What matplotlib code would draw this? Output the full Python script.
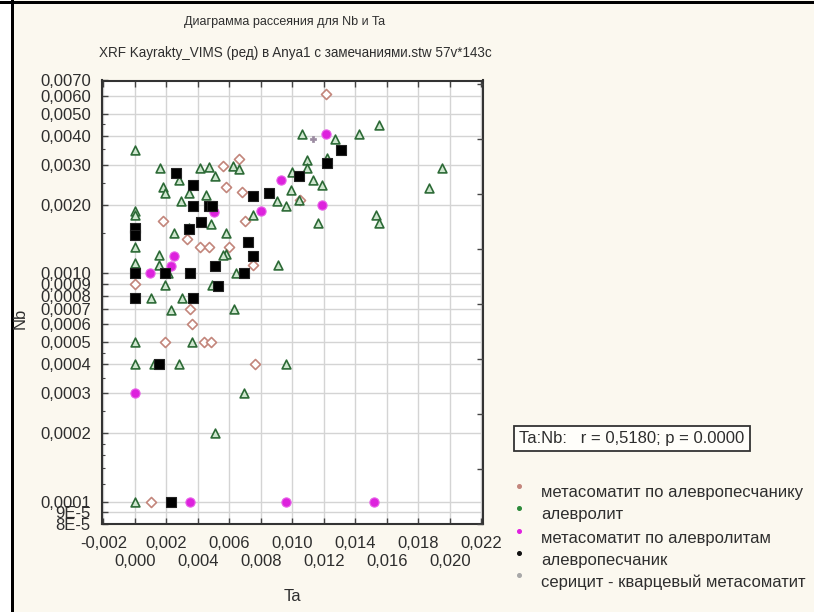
import numpy as np
import matplotlib
matplotlib.use("Agg")
import matplotlib.pyplot as plt
from matplotlib.patches import Rectangle
from matplotlib.lines import Line2D
from matplotlib.ticker import FixedLocator, FixedFormatter, NullFormatter

plt.rcParams['font.family'] = ['Liberation Sans', 'DejaVu Sans']

title = "Диаграмма рассеяния для Nb и Ta"
subtitle = "XRF Kayrakty_VIMS (ред) в Anya1 с замечаниями.stw 57v*143c"
corr_text = "Ta:Nb:   r = 0,5180; p = 0.0000"

group_names = [
    "метасоматит по алевропесчанику",
    "алевролит",
    "метасоматит по алевролитам",
    "алевропесчаник",
    "серицит - кварцевый метасоматит",
]

# Ta / Nb pairs for each rock group
ta_meta_alps = [0.0121, 0.0056, 0.0066, 0.0058, 0.0068, 0.0018, 0.0070, 0.0033, 0.0041, 0.0047,
                0.0060, 0.0075, 0.0105, 0.0000, 0.0035, 0.0036, 0.0019, 0.0044, 0.0048, 0.0076,
                0.0010]
nb_meta_alps = [0.0061, 0.00296, 0.00316, 0.00238, 0.00228, 0.00169, 0.00169, 0.00141, 0.00130, 0.00130,
                0.00130, 0.00109, 0.00209, 0.00090, 0.00070, 0.00060, 0.00050, 0.00050, 0.00050, 0.00040,
                0.00010]

ta_alevrolit = [0.0000, 0.0016, 0.0028, 0.0041, 0.0047, 0.0062, 0.0066, 0.0018, 0.0019, 0.0051,
                0.0034, 0.0045, 0.0029, 0.0090, 0.0096, 0.0000, 0.0000, 0.0075, 0.0034, 0.0025,
                0.0058, 0.0048, 0.0000, 0.0058, 0.0056, 0.0015, 0.0015, 0.0091, 0.0000, 0.0021,
                0.0064, 0.0019, 0.0049, 0.0010, 0.0030, 0.0023, 0.0063, 0.0000, 0.0036, 0.0000,
                0.0012, 0.0028, 0.0096, 0.0069, 0.0051, 0.0000, 0.00995, 0.0099, 0.0104, 0.0155,
                0.0106, 0.0127, 0.0142, 0.0195, 0.0109, 0.0109, 0.0122, 0.0113, 0.0119, 0.0187,
                0.0116, 0.0153, 0.0155]
nb_alevrolit = [0.00347, 0.00289, 0.00257, 0.00289, 0.00294, 0.00296, 0.00286, 0.00240, 0.00225, 0.00266,
                0.00225, 0.00221, 0.00207, 0.00207, 0.00198, 0.00187, 0.00181, 0.00181, 0.00158, 0.00151,
                0.00151, 0.00164, 0.00130, 0.00122, 0.00120, 0.00120, 0.00109, 0.00109, 0.00111, 0.00100,
                0.00100, 0.00089, 0.00089, 0.00078, 0.00078, 0.00069, 0.00070, 0.00050, 0.00050, 0.00040,
                0.00040, 0.00040, 0.00040, 0.00030, 0.00020, 0.00010, 0.00278, 0.00231, 0.00210, 0.00446,
                0.00409, 0.00390, 0.00410, 0.00289, 0.00315, 0.00289, 0.00320, 0.00257, 0.00245, 0.00237,
                0.00167, 0.00181, 0.00166]

ta_meta_alv = [0.0093, 0.0080, 0.0050, 0.0025, 0.0023, 0.00095, 0.0121, 0.0119, 0.0000, 0.0035,
               0.0096, 0.0152]
nb_meta_alv = [0.00257, 0.00188, 0.00185, 0.00119, 0.00108, 0.00100, 0.00410, 0.00200, 0.00030, 0.00010,
               0.00010, 0.00010]

ta_alps = [0.0026, 0.0037, 0.0075, 0.0085, 0.0037, 0.0047, 0.0049, 0.0000, 0.0000, 0.0042,
           0.0034, 0.0072, 0.0075, 0.0051, 0.0104, 0.0131, 0.0122, 0.0000, 0.0019, 0.0035,
           0.0069, 0.0053, 0.0000, 0.0037, 0.0015, 0.0023]
nb_alps = [0.00275, 0.00245, 0.00218, 0.00225, 0.00198, 0.00198, 0.00198, 0.00158, 0.00148, 0.00168,
           0.00157, 0.00138, 0.00119, 0.00108, 0.00266, 0.00348, 0.00304, 0.00100, 0.00100, 0.00100,
           0.00100, 0.00088, 0.00078, 0.00078, 0.00040, 0.00010]

ta_sericit = [0.0113]
nb_sericit = [0.00388]

x_ticks = [-0.002, 0.000, 0.002, 0.004, 0.006, 0.008, 0.010, 0.012, 0.014, 0.016, 0.018, 0.020, 0.022]
x_labels = ["-0,002", "0,000", "0,002", "0,004", "0,006", "0,008", "0,010", "0,012",
            "0,014", "0,016", "0,018", "0,020", "0,022"]
y_ticks = [0.007, 0.006, 0.005, 0.004, 0.003, 0.002, 0.001, 0.0009, 0.0008, 0.0007,
           0.0006, 0.0005, 0.0004, 0.0003, 0.0002, 0.0001, 0.00009, 0.00008]
y_labels = ["0,0070", "0,0060", "0,0050", "0,0040", "0,0030", "0,0020", "0,0010", "0,0009",
            "0,0008", "0,0007", "0,0006", "0,0005", "0,0004", "0,0003", "0,0002", "0,0001",
            "9E-5", "8E-5"]

cream = "#fbf8ef"
txt = "#2e2e2e"
fs = 12

W, H = 814, 612
fig = plt.figure(figsize=(W / 100, H / 100), dpi=100, facecolor=cream)

# window frame: white strip, black left and top edge
fig.patches.append(Rectangle((0, 0), 11 / W, 1, transform=fig.transFigure, facecolor="white",
                             edgecolor="none", zorder=0))
fig.patches.append(Rectangle((11 / W, 0), 2.5 / W, 1, transform=fig.transFigure, facecolor="black",
                             edgecolor="none", zorder=0))
fig.patches.append(Rectangle((0, 1 - 4 / H), 1, 3 / H, transform=fig.transFigure, facecolor="black",
                             edgecolor="none", zorder=0))

ax = fig.add_axes([101.9 / W, (H - 524) / H, (483 - 101.9) / W, (524 - 80.5) / H])
ax.set_facecolor("white")
ax.set_yscale("log")
ax.set_xlim(-0.0021, 0.0221)
ax.set_ylim(0.00008, 0.007)

ax.xaxis.set_major_locator(FixedLocator(x_ticks))
ax.xaxis.set_major_formatter(FixedFormatter(
    [lab if i % 2 == 0 else "\n" + lab for i, lab in enumerate(x_labels)]))
ax.yaxis.set_major_locator(FixedLocator(y_ticks))
ax.yaxis.set_major_formatter(FixedFormatter(y_labels))
minor_y = [0.00012, 0.00014, 0.00016, 0.00018, 0.00025, 0.00035, 0.00045,
           0.0015, 0.0025, 0.0035, 0.0045]
ax.yaxis.set_minor_locator(FixedLocator(minor_y))
ax.yaxis.set_minor_formatter(NullFormatter())
ax.xaxis.set_minor_locator(FixedLocator([]))

ax.grid(True, which="major", color="#d4d4d4", linewidth=1.0)
ax.set_axisbelow(True)
ax.tick_params(axis="both", which="major", direction="in", length=4, width=1,
               color="#444444", labelsize=fs, labelcolor=txt, top=True)
ax.tick_params(axis="y", which="major", pad=8)
ax.tick_params(axis="x", which="major", pad=9)
ax.tick_params(axis="y", which="minor", direction="in", length=2.5, width=0.8, color="#444444")
for lab in ax.get_xticklabels():
    lab.set_linespacing(1.25)
for s in ax.spines.values():
    s.set_color("#333333")
    s.set_linewidth(1.5)

# right-hand frame ticks, evenly spaced
ax_r = ax.twinx()
ax_r.set_ylim(0, 8.07)
ax_r.set_yticks(np.arange(0, 9))
ax_r.tick_params(axis="y", direction="in", length=4, width=1, color="#444444", labelright=False)
ax_r.set_yticklabels([])
for s in ax_r.spines.values():
    s.set_visible(False)

ax.scatter(ta_meta_alps, nb_meta_alps, marker="D", s=26, facecolors="white",
           edgecolors="#c3867c", linewidths=1.2, zorder=3)
ax.scatter(ta_alevrolit, nb_alevrolit, marker="^", s=40, facecolors="#cfe6cf",
           edgecolors="#2c6a36", linewidths=1.2, zorder=4)
ax.scatter(ta_meta_alv, nb_meta_alv, marker="o", s=44, facecolors="#dd22dd",
           edgecolors="#e860e8", linewidths=0.8, zorder=5)
ax.scatter(ta_alps, nb_alps, marker="s", s=48, facecolors="black",
           edgecolors="#222222", linewidths=0.8, zorder=6)
ax.scatter(ta_sericit, nb_sericit, marker="P", s=22, facecolors="#9a8aa0",
           edgecolors="#9a8aa0", linewidths=0.5, zorder=7)

ax.set_xlabel("Ta", fontsize=fs, color=txt, labelpad=14)
fig.text(20 / W, 1 - 318 / H, "Nb", rotation=90, ha="center", va="center", fontsize=fs, color=txt)

fig.text(285 / W, 1 - 22 / H, title, ha="center", va="center", fontsize=9, color=txt)
fig.text(295 / W, 1 - 53 / H, subtitle, ha="center", va="center", fontsize=9.75, color=txt)

fig.text(632 / W, 1 - 438 / H, corr_text, ha="center", va="center", fontsize=fs, color=txt,
         bbox=dict(boxstyle="square,pad=0.3", facecolor="#fffefa", edgecolor="#333333", linewidth=1.3))

# legend: small dots sitting a little above each label
legend_colors = ["#c3867c", "#2c8a3a", "#e020e0", "#111111", "#a8a8a8"]
row_y = [493, 515, 538, 560, 582]
for name, col, yy in zip(group_names, legend_colors, row_y):
    fig.lines.append(Line2D([519 / W], [1 - (yy - 7) / H], marker="o", markersize=2.6, color=col,
                            linestyle="none", transform=fig.transFigure))
    fig.text(541 / W, 1 - yy / H, name, ha="left", va="center", fontsize=fs, color=txt)

fig.savefig("out.png", dpi=100, facecolor=cream)
